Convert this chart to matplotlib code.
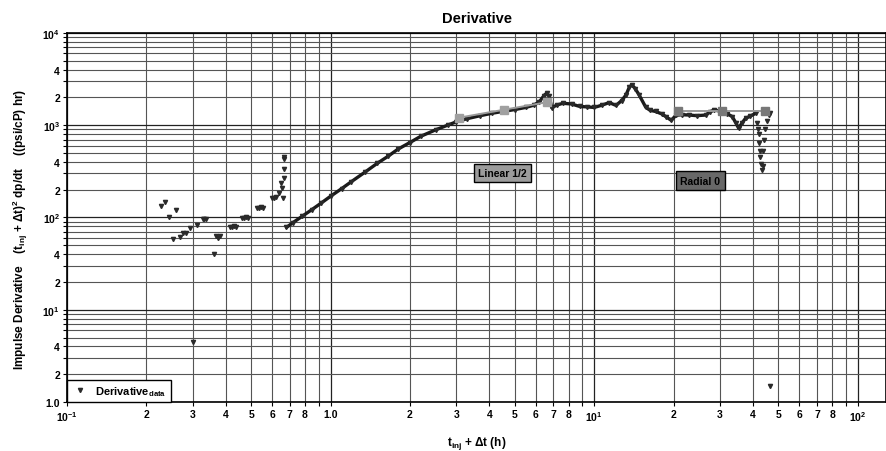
"""Impulse derivative log-log plot with linear (1/2) and radial (0) flow regimes."""

import matplotlib

matplotlib.use("Agg")
import matplotlib.pyplot as plt  # noqa: E402
from matplotlib.ticker import FixedLocator, FixedFormatter  # noqa: E402

plt.rcParams["font.family"] = ["Liberation Sans", "DejaVu Sans"]
plt.rcParams["font.weight"] = "bold"
plt.rcParams["axes.labelweight"] = "bold"
plt.rcParams["mathtext.fontset"] = "custom"
plt.rcParams["mathtext.rm"] = "Liberation Sans:bold"
plt.rcParams["mathtext.bf"] = "Liberation Sans:bold"
plt.rcParams["mathtext.it"] = "Liberation Sans:bold"
plt.rcParams["mathtext.default"] = "bf"

# early-time scatter (sparse derivative points)
early_t = [0.227, 0.236, 0.243, 0.252, 0.260, 0.268, 0.276, 0.284, 0.292, 0.300,
           0.310, 0.327, 0.332, 0.338, 0.361, 0.367, 0.374, 0.381, 0.415, 0.422,
           0.430, 0.437, 0.460, 0.468, 0.476, 0.486, 0.527, 0.536, 0.546, 0.555,
           0.601, 0.612, 0.623, 0.635, 0.646, 0.656, 0.660, 0.665, 0.665, 0.666,
           0.667]
early_d = [134, 148, 100, 59, 120, 61, 68, 68, 77, 4.46,
           82, 97, 97, 97, 40, 63, 60, 63, 79, 79,
           81, 79, 99, 99, 101, 99, 128, 128, 130, 128,
           164, 164, 166, 185, 238, 210, 164, 265, 335, 430,
           457]

# dense derivative curve
main_t = [0.68, 0.72, 0.78, 0.85, 0.92, 1.0, 1.1, 1.2, 1.35, 1.5,
          1.65, 1.8, 2.0, 2.2, 2.5, 2.8, 3.0, 3.3, 3.7, 4.1,
          4.5, 5.0, 5.5, 5.9, 6.2, 6.45, 6.6, 6.75, 6.9, 7.2,
          7.6, 8.2, 8.8, 9.4, 10.0, 10.7, 11.4, 12.1, 12.7, 13.2,
          13.6, 13.9, 14.3, 14.8, 15.7, 16.3, 17.1, 18.0, 18.7, 19.6,
          20.4, 21.5, 22.9, 24.5, 26.5, 27.5, 28.5, 30.6, 32.0, 33.4,
          34.5, 35.3, 36.3, 37.5, 39.0, 41.0]
main_d = [78, 88, 103, 122, 143, 170, 205, 245, 310, 385,
          460, 550, 650, 760, 890, 1010, 1090, 1180, 1270, 1350,
          1410, 1480, 1560, 1650, 1800, 2100, 2230, 2050, 1550, 1650,
          1730, 1700, 1600, 1580, 1560, 1650, 1760, 1640, 1850, 2130,
          2600, 2740, 2500, 2130, 1560, 1450, 1410, 1330, 1240, 1130,
          1280, 1300, 1290, 1270, 1290, 1400, 1460, 1410, 1330, 1240,
          1050, 930, 1050, 1190, 1250, 1350]

# late-time tail
late_t = [41.4, 41.7, 42.0, 42.2, 42.5, 42.7, 43.0, 43.2, 43.5, 43.8,
          44.2, 44.6, 45.2, 46.0, 46.5, 46.3]
late_d = [1050, 900, 800, 650, 520, 450, 380, 330, 360, 520,
          700, 900, 1100, 1300, 1350, 1.48]

# flow-regime model lines
linear_t = [3.08, 4.53, 6.64]
linear_d = [1210, 1470, 1780]
radial_t = [20.8, 30.5, 44.6]
radial_d = [1410, 1410, 1410]

x_major = [0.1, 1.0, 10.0, 100.0]
x_major_labels = ["10$^{-1}$", "1.0", "10$^{1}$", "10$^{2}$"]
y_major = [1.0, 10.0, 100.0, 1000.0, 10000.0]
y_major_labels = ["1.0", "10$^{1}$", "10$^{2}$", "10$^{3}$", "10$^{4}$"]

fig = plt.figure(figsize=(8.87, 4.52), dpi=100)
ax = fig.add_axes([0.0755, 0.1084, 0.9235, 0.8164])

ax.set_xscale("log")
ax.set_yscale("log")
ax.set_xlim(0.1, 128)
ax.set_ylim(1.0, 10000)

mk = dict(marker="v", ms=3.0, color="#2a2a2a", ls="none")
ax.plot(main_t, main_d, color="#1a1a1a", lw=2.4, solid_capstyle="round", zorder=3)
ax.plot(main_t, main_d, zorder=4, **mk)
ax.plot(late_t, late_d, zorder=4, **mk)
ax.plot(early_t, early_d, zorder=4, label="Derivative$_{\\mathrm{data}}$", **mk)

ax.plot(linear_t, linear_d, color="#9a9a9a", lw=1.4, zorder=5)
ax.plot(linear_t, linear_d, "s", ms=6, color="#a0a0a0", zorder=5)
ax.plot(radial_t, radial_d, color="#9a9a9a", lw=1.4, zorder=5)
ax.plot(radial_t, radial_d, "s", ms=6, color="#787878", zorder=5)

ax.text(4.5, 305, "Linear 1/2", fontsize=7.5, ha="center", va="center",
        bbox=dict(boxstyle="square,pad=0.4", fc="#9c9c9c", ec="black", lw=1), zorder=6)
ax.text(25.3, 250, "Radial 0", fontsize=7.5, ha="center", va="center",
        bbox=dict(boxstyle="square,pad=0.45", fc="#686868", ec="black", lw=1), zorder=6)

# ticks: decades plus labelled sub-decades
decades_x = [0.1, 1.0, 10.0, 100.0]
x_minor = [m * d for d in decades_x for m in range(2, 10) if m * d < 128]
x_minor_labels = ["" if round(v / d) == 9 else str(round(v / d))
                  for d in decades_x for v in [m * d for m in range(2, 10)] if v < 128]
ax.xaxis.set_major_locator(FixedLocator(x_major))
ax.xaxis.set_major_formatter(FixedFormatter(x_major_labels))
ax.xaxis.set_minor_locator(FixedLocator(x_minor))
ax.xaxis.set_minor_formatter(FixedFormatter(x_minor_labels))

decades_y = [1.0, 10.0, 100.0, 1000.0]
y_minor = [m * d for d in decades_y for m in range(2, 10)]
y_minor_labels = [str(m) if m in (2, 4) else "" for d in decades_y for m in range(2, 10)]
ax.yaxis.set_major_locator(FixedLocator(y_major))
ax.yaxis.set_major_formatter(FixedFormatter(y_major_labels))
ax.yaxis.set_minor_locator(FixedLocator(y_minor))
ax.yaxis.set_minor_formatter(FixedFormatter(y_minor_labels))

ax.tick_params(which="both", labelsize=7.5, length=3, width=0.8, pad=2)
ax.grid(which="major", color="#222222", lw=0.9)
ax.grid(which="minor", color="#555555", lw=0.8)
ax.set_axisbelow(True)
for s in ax.spines.values():
    s.set_linewidth(1.2)

ax.set_title("Derivative", fontsize=10.5, fontweight="bold", pad=8)
ax.set_xlabel("t$_{inj}$ + Δt (h)", fontsize=8.5, fontweight="bold", labelpad=8)
ax.set_ylabel("Impulse Derivative    (t$_{inj}$ + Δt)$^{2}$ dp/dt    ((psi/cP) hr)",
              fontsize=8.5, fontweight="bold")
ax.yaxis.set_label_coords(-0.045, 0.47)

leg = ax.legend(loc="lower left", borderaxespad=0, fancybox=False, framealpha=1,
                edgecolor="black", fontsize=8, handletextpad=0.6, borderpad=0.35,
                handlelength=1.6)
leg.get_frame().set_linewidth(1.0)
leg.set_zorder(7)

fig.savefig("out.png", dpi=100)
